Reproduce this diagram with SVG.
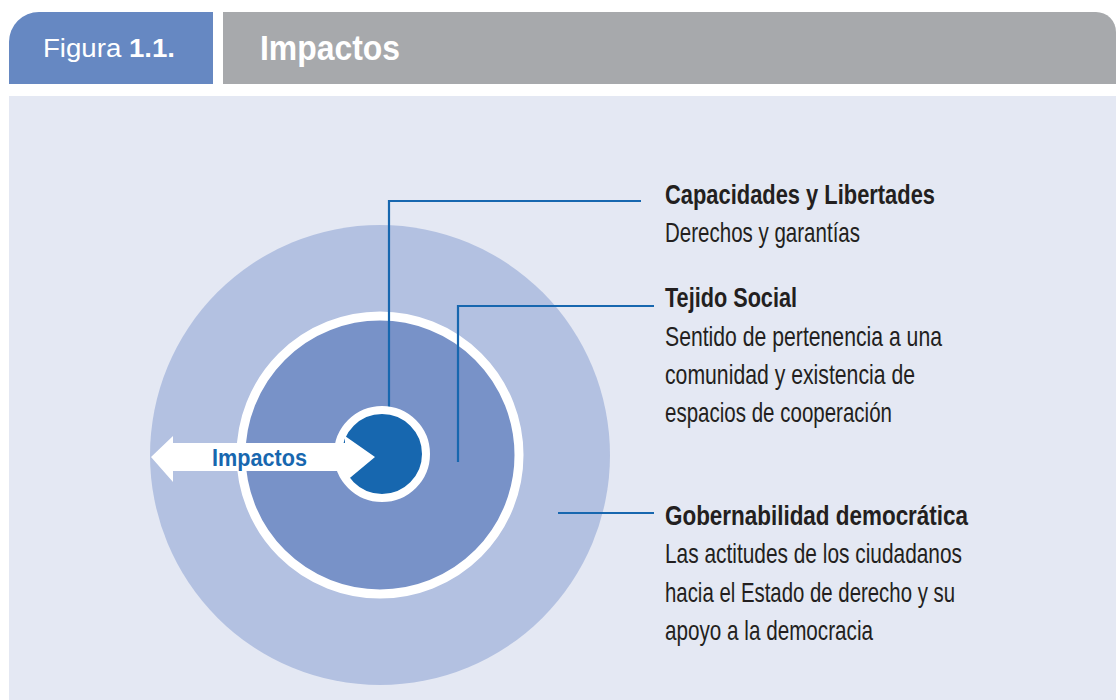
<svg xmlns="http://www.w3.org/2000/svg" width="1116" height="700" viewBox="0 0 1116 700">
<style>
.t{font-family:"Liberation Sans",Arial,sans-serif;fill:#231F20;font-size:28px}
.b{font-weight:bold}
.h{font-family:"Liberation Sans",Arial,sans-serif;fill:#fff}
.c{fill:none;stroke:#1767AF;stroke-width:2.2}
</style>
<rect width="1116" height="700" fill="#fff"/>
<g id="header">
<path d="M9 84 V42 A30 30 0 0 1 39 12 H213 V84 Z" fill="#6688C2"/>
<path d="M223 12 H1096 A20 20 0 0 1 1116 32 V84 H223 Z" fill="#A7A9AC"/>
<text class="h" x="43" y="57" font-size="25" textLength="132" lengthAdjust="spacingAndGlyphs">Figura <tspan font-weight="bold">1.1.</tspan></text>
<text class="h b" x="260" y="60" font-size="35" font-weight="bold" textLength="140" lengthAdjust="spacingAndGlyphs">Impactos</text>
</g>
<rect x="9" y="96" width="1107" height="604" fill="#E4E8F3"/>
<g id="outer-circle"><circle cx="380" cy="455" r="230" fill="#B3C1E1"/></g>
<g id="middle-circle"><circle cx="380" cy="455" r="139" fill="#7892C8" stroke="#fff" stroke-width="9"/></g>
<g id="connectors">
<polyline class="c" points="389,410 389,201 641,201"/>
<polyline class="c" points="458,462 458,306 654,306"/>
<polyline class="c" points="558,513 654,513"/>
</g>
<g id="inner-circle"><circle cx="382" cy="454" r="44" fill="#1767AF" stroke="#fff" stroke-width="8"/></g>
<g id="impactos-arrow">
<polygon points="151,457 173,436 173,443 345,443 345,436 375,457 345,482 345,471 173,471 173,482" fill="#fff"/>
<text x="212" y="466" font-family="Liberation Sans,Arial,sans-serif" font-weight="bold" font-size="23" fill="#1767AF" textLength="95" lengthAdjust="spacingAndGlyphs">Impactos</text>
</g>
<g id="capacidades">
<text class="t b" x="665" y="204" textLength="270" lengthAdjust="spacingAndGlyphs">Capacidades y Libertades</text>
<text class="t" x="665" y="242" textLength="195" lengthAdjust="spacingAndGlyphs">Derechos y garantías</text>
</g>
<g id="tejido">
<text class="t b" x="665" y="307" textLength="132" lengthAdjust="spacingAndGlyphs">Tejido Social</text>
<text class="t" x="665" y="346" textLength="277" lengthAdjust="spacingAndGlyphs">Sentido de pertenencia a una</text>
<text class="t" x="665" y="384" textLength="250" lengthAdjust="spacingAndGlyphs">comunidad y existencia de</text>
<text class="t" x="665" y="422" textLength="227" lengthAdjust="spacingAndGlyphs">espacios de cooperación</text>
</g>
<g id="gobernabilidad">
<text class="t b" x="665" y="525" textLength="303" lengthAdjust="spacingAndGlyphs">Gobernabilidad democrática</text>
<text class="t" x="665" y="563" textLength="297" lengthAdjust="spacingAndGlyphs">Las actitudes de los ciudadanos</text>
<text class="t" x="665" y="602" textLength="290" lengthAdjust="spacingAndGlyphs">hacia el Estado de derecho y su</text>
<text class="t" x="665" y="640" textLength="208" lengthAdjust="spacingAndGlyphs">apoyo a la democracia</text>
</g>
</svg>
